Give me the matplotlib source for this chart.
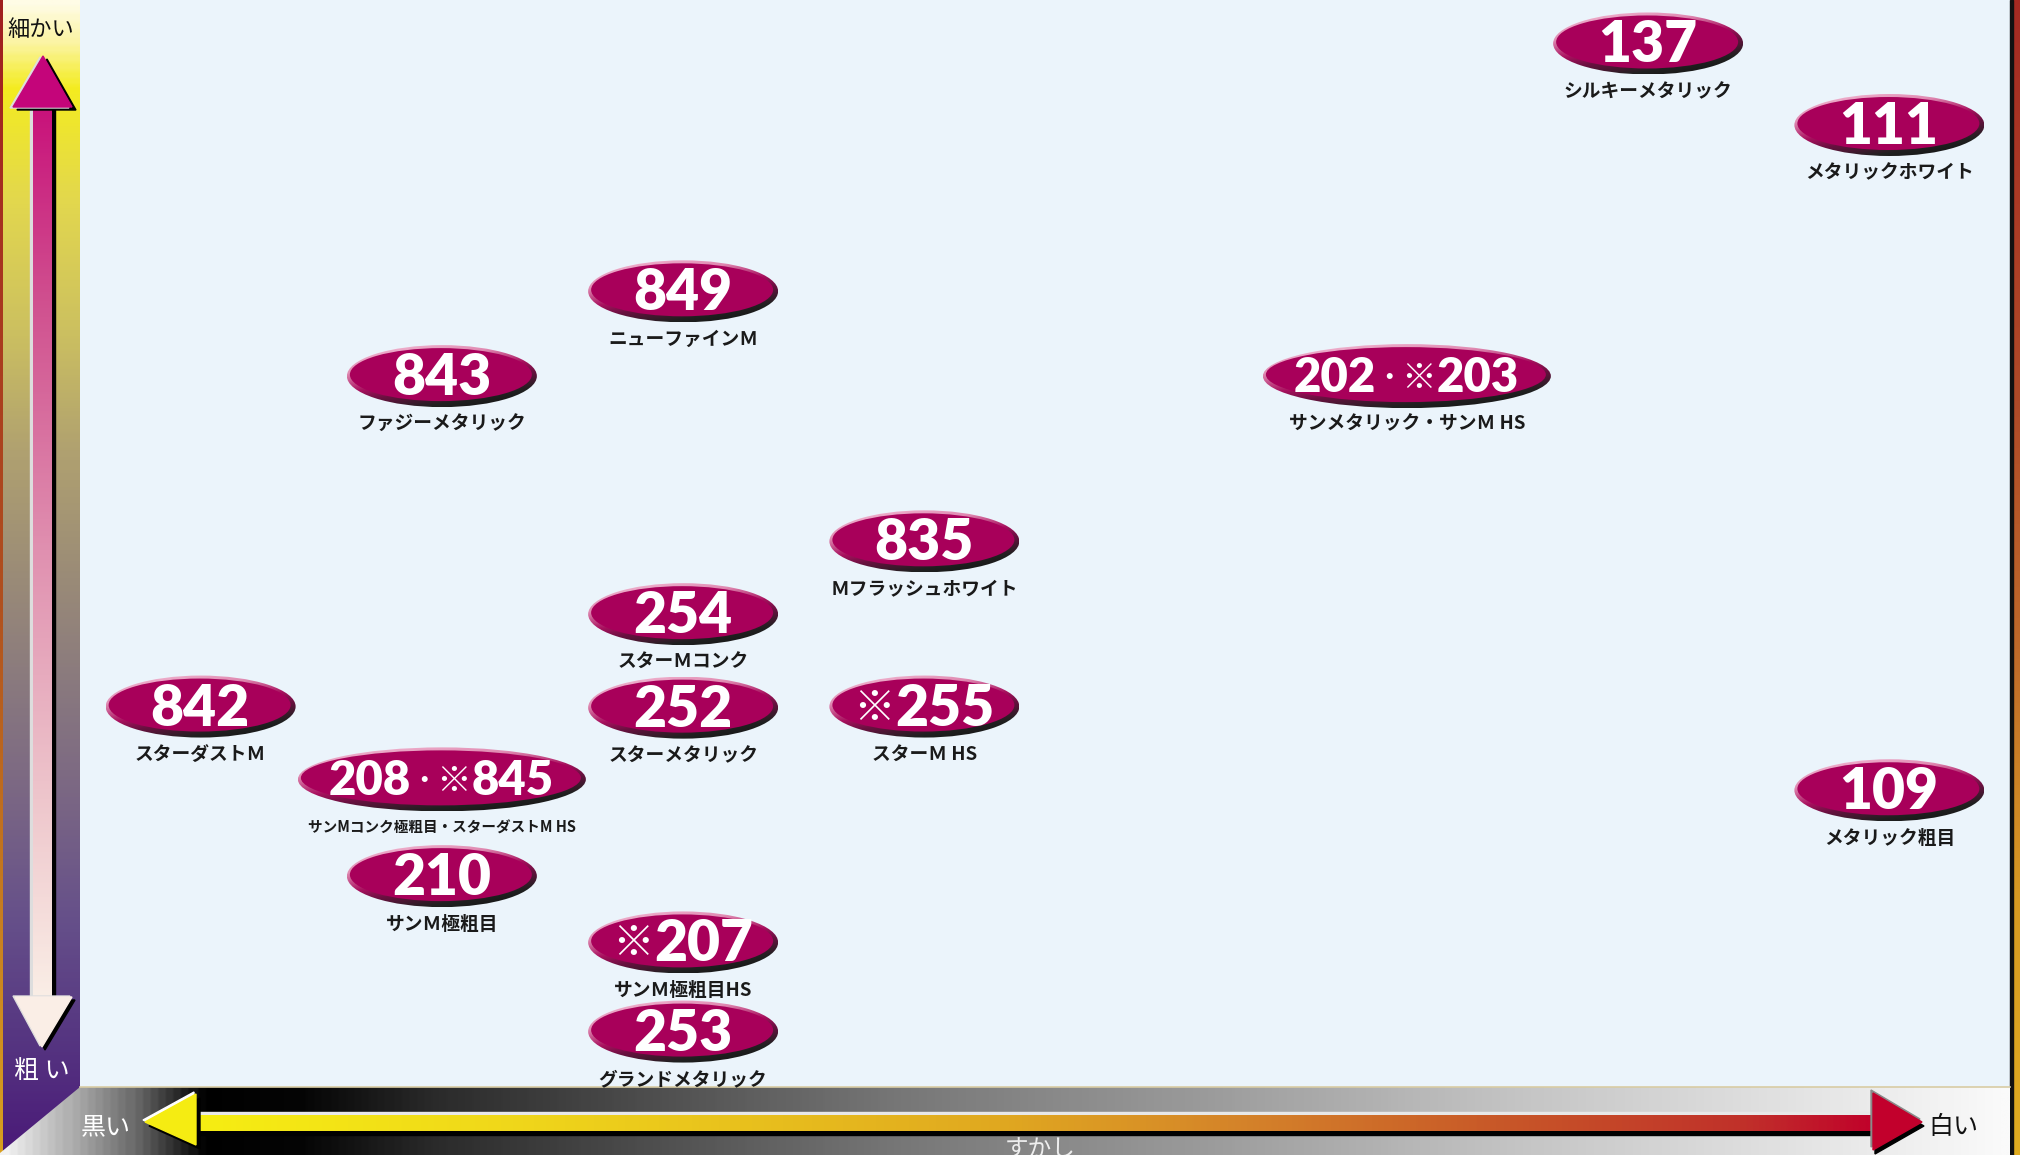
import re
import numpy as np
import matplotlib
matplotlib.use('Agg')
import matplotlib.pyplot as plt
from matplotlib.patches import Ellipse, Polygon, Rectangle
from matplotlib.colors import LinearSegmentedColormap

# ---------------- data ----------------
codes = ['137', '111', '849', '843', '202・※203', '835', '254', '842', '252',
         '※255', '208・※845', '210', '109', '※207', '253']
names = ['シルキーメタリック', 'メタリックホワイト', 'ニューファインＭ', 'ファジーメタリック',
         'サンメタリック・サンＭ HS', 'Ｍフラッシュホワイト', 'スターＭコンク', 'スターダストＭ',
         'スターメタリック', 'スターＭ HS', 'サンMコンク極粗目・スターダストM HS', 'サンＭ極粗目',
         'メタリック粗目', 'サンＭ極粗目HS', 'グランドメタリック']
# x: すかし (0 = 黒い, 100 = 白い) ; y: 粒子 (0 = 粗い, 100 = 細かい)
whiteness = [81.25, 93.75, 31.25, 18.75, 68.75, 43.75, 31.25, 6.25, 31.25,
             43.75, 18.75, 18.75, 93.75, 31.25, 31.25]
fineness = [96.0, 88.5, 73.2, 65.4, 65.4, 50.2, 43.5, 35.0, 34.9,
            35.0, 28.3, 19.4, 27.3, 13.3, 5.1]
axis_top = '細かい'
axis_bottom = '粗 い'
axis_left = '黒い'
axis_right = '白い'
axis_title = 'すかし'

JP = ['Noto Sans CJK JP', 'DejaVu Sans']
NUM = ['Lato', 'Noto Sans CJK JP', 'DejaVu Sans']

W, H = 2020, 1155
PX0, PX1, PY0, PY1 = 80, 2010, 0, 1087   # plot area in pixels

fig = plt.figure(figsize=(W / 100, H / 100), dpi=100)
bg = fig.add_axes([0, 0, 1, 1])
bg.axis('off')


def cmap(stops, name):
    pos = [p for p, _ in stops]
    lo, hi = pos[0], pos[-1]
    return LinearSegmentedColormap.from_list(
        name, [((p - lo) / (hi - lo), c) for p, c in stops])


def vgrad(x0, x1, y0, y1, stops, z=1, clip=None):
    cm = cmap(stops, 'v')
    arr = np.linspace(0, 1, 400).reshape(-1, 1)
    im = bg.imshow(arr, cmap=cm, extent=(x0, x1, y1, y0), origin='upper',
                   aspect='auto', zorder=z, interpolation='bilinear')
    if clip is not None:
        im.set_clip_path(clip)
    return im


def hgrad(x0, x1, y0, y1, stops, z=1, clip=None):
    cm = cmap(stops, 'h')
    arr = np.linspace(0, 1, 800).reshape(1, -1)
    im = bg.imshow(arr, cmap=cm, extent=(x0, x1, y1, y0), origin='upper',
                   aspect='auto', zorder=z, interpolation='bilinear')
    if clip is not None:
        im.set_clip_path(clip)
    return im


# plot background
bg.add_patch(Rectangle((PX0, PY0), PX1 - PX0, PY1 - PY0, color='#EBF4FB', zorder=0))

# left strip
vgrad(3, PX0, 0, H, [(0, '#FFFCE6'), (40, '#FBF4A0'), (85, '#F4EC20'), (200, '#E2D74E'),
                     (330, '#CCC060'), (450, '#B0A170'), (560, '#9D8E76'), (680, '#8A7A7E'),
                     (800, '#7A6684'), (920, '#66508A'), (1030, '#573882'), (1155, '#4A1A78')], z=1)
vgrad(0, 3, 0, H, [(0, '#A02020'), (600, '#B0501E'), (1155, '#D8A020')], z=1)

# right strip
bg.add_patch(Rectangle((PX1, 0), 3, H, color='#111111', zorder=2))
vgrad(PX1 + 3, W, 0, H, [(0, '#A52A22'), (400, '#B04A28'), (650, '#C06A2A'),
                         (900, '#D89A22'), (1155, '#E0AC20')], z=1)

# bottom bar with diagonal corner
clip_poly = Polygon([(PX0, PY1), (PX1, PY1), (PX1, H), (0, H), (0, H - 2)],
                    closed=True, transform=bg.transData, facecolor='none', edgecolor='none')
bg.add_patch(clip_poly)
hgrad(0, PX1, PY1, H, [(0, '#F2F2F2'), (80, '#A0A0A0'), (130, '#6A6A6A'), (190, '#111111'),
                       (200, '#000000'), (300, '#050505'), (430, '#2A2A2A'), (900, '#777777'),
                       (1200, '#9A9A9A'), (1500, '#C2C2C2'), (1900, '#EEEEEE'), (2010, '#FAFAFA')],
      z=2, clip=clip_poly)
bg.plot([PX0, PX1], [PY1, PY1], color='#D8CCA4', lw=1.2, zorder=3)

# horizontal arrow
bg.add_patch(Rectangle((190, 1112), 1690, 3, color='#E8E8E8', zorder=4))
bg.add_patch(Rectangle((190, 1131), 1690, 4, color='#000000', zorder=4))
hgrad(190, 1880, 1115, 1131, [(190, '#F6EE12'), (500, '#F0D81A'), (1000, '#E0A820'),
                              (1250, '#D4822A'), (1500, '#C85828'), (1750, '#C0302A'),
                              (1880, '#C0002A')], z=5)
lh = [(145, 1122), (196, 1094), (196, 1145)]
bg.add_patch(Polygon([(x + 4, y + 4) for x, y in lh], color='#000000', zorder=5))
bg.add_patch(Polygon([(x - 2, y - 2) for x, y in lh], color='#FFFFFF', zorder=5))
bg.add_patch(Polygon(lh, color='#F5EC12', zorder=6))
rh = [(1873, 1093), (1922, 1122), (1873, 1150)]
bg.add_patch(Polygon([(x + 2, y + 4) for x, y in rh], color='#000000', zorder=5))
bg.add_patch(Polygon([(x - 2, y - 3) for x, y in rh], color='#8A8A8A', zorder=5))
bg.add_patch(Polygon(rh, color='#C2002C', zorder=6))

# vertical arrow
bg.add_patch(Rectangle((30, 100), 3, 900, color='#DDDDDD', zorder=4))
bg.add_patch(Rectangle((52, 100), 3, 900, color='#000000', zorder=4))
vgrad(33, 52, 100, 1000, [(100, '#C8107A'), (300, '#D0508F'), (550, '#E090B0'),
                          (800, '#EEC6CC'), (1000, '#FAEEE6')], z=5)
th = [(43, 56), (72, 107), (13, 107)]
bg.add_patch(Polygon([(x + 4, y + 3) for x, y in th], color='#000000', zorder=5))
bg.add_patch(Polygon([(x - 3, y + 1) for x, y in th], color='#DDDDDD', zorder=5))
bg.add_patch(Polygon(th, color='#C4057A', zorder=6))
bh = [(15, 997), (72, 997), (42, 1047)]
bg.add_patch(Polygon([(x + 3, y + 3) for x, y in bh], color='#000000', zorder=5))
bg.add_patch(Polygon([(x - 2, y - 1) for x, y in bh], color='#DDDDDD', zorder=5))
bg.add_patch(Polygon(bh, color='#FAEEE6', zorder=6))

# axis words
bg.text(41, 30, axis_top, family=JP, fontsize=16, color='#111111', ha='center', va='center', zorder=7)
bg.text(42, 1071, axis_bottom, family=JP, fontsize=18, color='white', ha='center', va='center', zorder=7)
bg.text(106, 1127, axis_left, family=JP, fontsize=18, color='white', ha='center', va='center', zorder=7)
bg.text(1953, 1127, axis_right, family=JP, fontsize=18, color='#111111', ha='center', va='center', zorder=7)
bg.text(1040, 1150, axis_title, family=JP, fontsize=17, color='#EEEEEE', ha='center', va='center', zorder=7)

bg.set_xlim(0, W)
bg.set_ylim(H, 0)

# ---------------- data axes ----------------
ax = fig.add_axes([PX0 / W, (H - PY1) / H, (PX1 - PX0) / W, (PY1 - PY0) / H])
ax.axis('off')
ax.patch.set_visible(False)
ax.set_xlim(0, 100)
ax.set_ylim(0, 100)
sx = 100 / (PX1 - PX0)
sy = 100 / (PY1 - PY0)

rim = LinearSegmentedColormap.from_list('rim', [(0.0, '#F6C4DA'), (0.3, '#E08AB2'),
                                                 (0.5, '#A8105E'), (0.62, '#6A1040'),
                                                 (0.8, '#202020'), (1.0, '#101010')])
u, v = np.meshgrid(np.linspace(0, 1, 80), np.linspace(0, 1, 80))
tgrid = 0.35 * u + 0.65 * v

groups = []
for code, name, xv, yv in zip(codes, names, whiteness, fineness):
    wide = '・' in code
    wpx = 288 if wide else 190
    hpx = 64 if wide else 62
    w, h = wpx * sx, hpx * sy
    outer = Ellipse((xv, yv), w, h, facecolor='none', edgecolor='none')
    ax.add_patch(outer)
    im = ax.imshow(tgrid, cmap=rim, extent=(xv - w / 2, xv + w / 2, yv - h / 2, yv + h / 2),
                   origin='upper', aspect='auto', zorder=2, interpolation='bilinear')
    im.set_clip_path(outer)
    inner = Ellipse((xv - 1 * sx, yv + 1.5 * sy), w - 8 * sx, h - 9 * sy,
                    facecolor='#A8005A', edgecolor='none', zorder=3)
    ax.add_patch(inner)

    dsize = 34 if wide else 41
    parts = re.findall(r'\d+|\D', code)
    anns = []
    for p in parts:
        if p.isdigit():
            a = ax.annotate(p, (xv, yv), xytext=(0, -2), textcoords='offset pixels',
                            family=NUM, fontweight='heavy', fontsize=dsize, color='white',
                            ha='left', va='center', zorder=4)
        elif p == '・':
            a = ax.annotate(p, (xv, yv), xytext=(0, -2), textcoords='offset pixels',
                            family=JP, fontweight='bold', fontsize=17, color='white',
                            ha='left', va='center', zorder=4)
        else:
            a = ax.annotate(p, (xv, yv), xytext=(0, -2), textcoords='offset pixels',
                            family=JP, fontweight='bold', fontsize=25 if wide else 30,
                            color='white', ha='left', va='center', zorder=4)
        anns.append(a)
    groups.append(anns)

    lbl_size = 10.5 if len(name) > 16 else 13.5
    ax.annotate(name, (xv, yv), xytext=(0, -34.5), textcoords='offset points',
                family=JP, fontweight='bold', fontsize=lbl_size, color='#1A1A1A',
                ha='center', va='center', zorder=4)

# lay out the number pieces side by side, centred on their ellipse
fig.canvas.draw()
rend = fig.canvas.get_renderer()
for anns in groups:
    widths = [a.get_window_extent(rend).width + 1 for a in anns]
    total = sum(widths)
    x = -total / 2
    for a, wdt in zip(anns, widths):
        a.xyann = (x, -2)
        x += wdt

fig.savefig('out.png', dpi=100)
